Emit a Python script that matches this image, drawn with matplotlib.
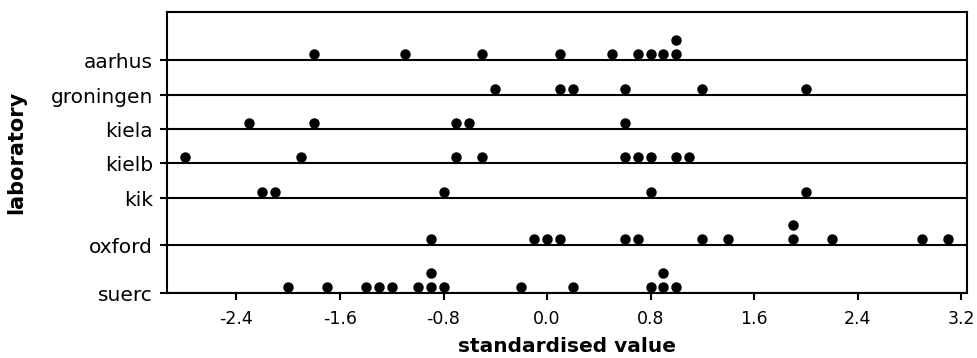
import numpy as np
import matplotlib
matplotlib.use("Agg")
import matplotlib.pyplot as plt

plt.rcParams["axes.unicode_minus"] = False

labs = ["aarhus", "groningen", "kiela", "kielb", "kik", "oxford", "suerc"]
aarhus = [-1.8, -1.1, -0.5, 0.1, 0.5, 0.7, 0.8, 0.9, 1.0, 1.0]
groningen = [-0.4, 0.1, 0.2, 0.6, 1.2, 2.0]
kiela = [-2.3, -1.8, -0.7, -0.6, 0.6]
kielb = [-2.8, -1.9, -0.7, -0.5, 0.6, 0.7, 0.8, 1.0, 1.1]
kik = [-2.2, -2.1, -0.8, 0.8, 2.0]
oxford = [-0.9, -0.1, 0.0, 0.1, 0.6, 0.7, 1.2, 1.4, 1.9, 1.9, 2.2, 2.9, 3.1]
suerc = [-2.0, -1.7, -1.4, -1.3, -1.2, -1.0, -0.9, -0.9, -0.8, -0.2, 0.2, 0.8, 0.9, 0.9, 1.0]
series = [aarhus, groningen, kiela, kielb, kik, oxford, suerc]
xticks = [-2.4, -1.6, -0.8, 0.0, 0.8, 1.6, 2.4, 3.2]

# row baselines (pixel-like units from the top), stacks go upwards
rows = [60, 95, 129, 163, 198, 245, 293]

fig = plt.figure(figsize=(9.77, 3.58), dpi=100)
ax = fig.add_axes([167/977, 1-293/358, 800/977, 281/358])

for base, vals in zip(rows, series):
    ax.axhline(base, color="black", lw=1.5, zorder=1)
    seen = {}
    for v in vals:
        k = round(v, 1)
        n = seen.get(k, 0)
        seen[k] = n + 1
        ax.plot(v, base - 6 - 14 * n, "o", color="black", ms=6.5, zorder=3, clip_on=False)

ax.set_ylim(293, 12)
ax.set_xlim(-2.937, 3.246)
ax.set_yticks(rows)
ax.set_yticklabels(labs, fontsize=14.5)
ax.set_xticks(xticks)
ax.set_xticklabels(["%.1f" % t for t in xticks], fontsize=12.5)
ax.tick_params(direction="out", length=5, width=1.5)
ax.tick_params(axis="x", pad=7)
ax.tick_params(axis="y", pad=5)
for s in ax.spines.values():
    s.set_linewidth(1.5)
ax.set_xlabel("standardised value", fontsize=14.5, fontweight="bold", labelpad=7)
ax.set_ylabel("laboratory", fontsize=15, fontweight="bold")
ax.yaxis.set_label_coords(-0.176, 0.5)

fig.savefig("out.png", dpi=100)
